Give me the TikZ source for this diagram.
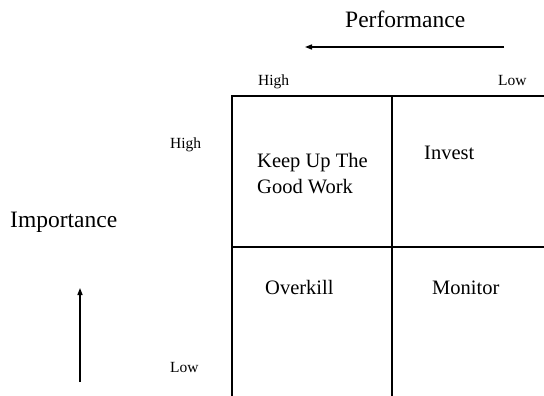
\documentclass[tikz,border=0pt]{standalone}
\usepackage{fontspec}
\setmainfont{Liberation Serif}
\usetikzlibrary{arrows.meta}

\tikzset{
  axistitle/.style={font=\fontsize{23.5}{26}\selectfont,inner sep=0pt,anchor=base west},
  celltext/.style={font=\fontsize{20.5}{25}\selectfont,inner sep=0pt,anchor=base west,align=left},
  ticktext/.style={font=\fontsize{15.5}{18}\selectfont,inner sep=0pt,anchor=base west},
  gridline/.style={line width=1.3pt},
  dirarrow/.style={line width=1.3pt,-{Triangle[length=7pt,width=5pt]}}
}

\begin{document}
\begin{tikzpicture}[x=1pt,y=-1pt]
\useasboundingbox (0,0) rectangle (544,396);

% quadrant grid
\draw[gridline] (232,396) -- (232,96) -- (544,96);
\draw[gridline] (392,96) -- (392,396);
\draw[gridline] (232,247) -- (544,247);

% performance axis
\node[axistitle] (perf) at (345,28) {Performance};
\coordinate (perftail) at (504,47);
\coordinate (perfhead) at (305,47);
\draw[dirarrow] (perftail) -- (perfhead);
\node[ticktext] (phigh) at (258,86) {High};
\node[ticktext] (plow) at (498,86) {Low};

% importance axis
\node[axistitle] (imp) at (10,227) {Importance};
\coordinate (imptail) at (80,382);
\coordinate (imphead) at (80,288);
\draw[dirarrow] (imptail) -- (imphead);
\node[ticktext] (ihigh) at (170,148) {High};
\node[ticktext] (ilow) at (170,372) {Low};

% quadrant labels
\node[celltext] (keep) at (257,193) {Keep Up The\\Good Work};
\node[celltext] (invest) at (424,159) {Invest};
\node[celltext] (overkill) at (265,294) {Overkill};
\node[celltext] (monitor) at (432,294) {Monitor};
\end{tikzpicture}
\end{document}
